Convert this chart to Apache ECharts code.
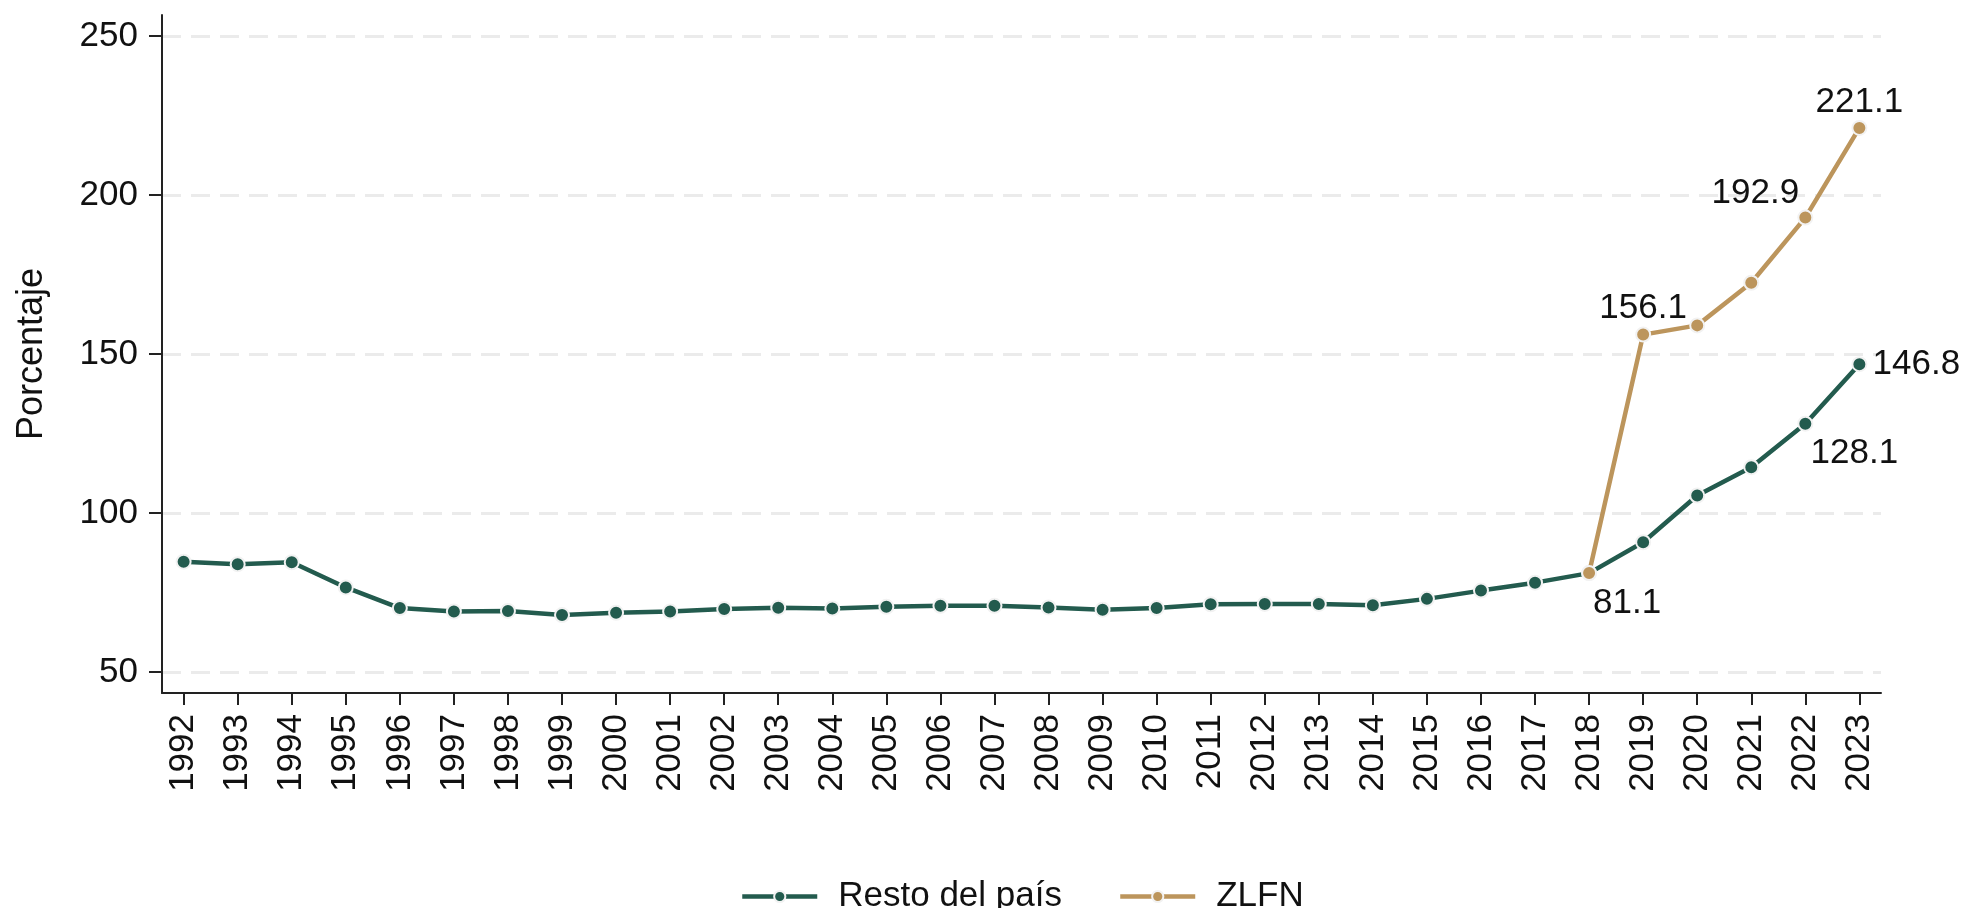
<!DOCTYPE html>
<html>
<head>
<meta charset="utf-8">
<script src="https://cdn.jsdelivr.net/npm/echarts@6/dist/echarts.min.js"></script>
<style>
html,body{margin:0;padding:0;background:#fff;}
#chart{width:1964px;height:908px;}
</style>
</head>
<body>
<div id="chart"></div>
<script>
// ---- data ----
const years = [1992,1993,1994,1995,1996,1997,1998,1999,2000,2001,2002,2003,2004,2005,2006,2007,2008,2009,2010,2011,2012,2013,2014,2015,2016,2017,2018,2019,2020,2021,2022,2023];
const restoValues = [84.7,83.9,84.5,76.6,70.1,69.0,69.2,67.9,68.6,69.0,69.8,70.2,70.0,70.5,70.8,70.8,70.3,69.6,70.1,71.3,71.4,71.4,71.0,73.0,75.6,78.1,81.1,90.8,105.5,114.4,128.1,146.8];
const zlfnYears = [2018,2019,2020,2021,2022,2023];
const zlfnValues = [81.1,156.1,159.0,172.4,192.9,221.1];
const yTicks = [50,100,150,200,250];
const seriesNames = ['Resto del país','ZLFN'];
const yTitle = 'Porcentaje';

// ---- label placement (style, not data) ----
const restoLabels = { 2022: [49, 30], 2023: [57, 0] };
const zlfnLabels = { 2018: [38, 30], 2019: [0, -26], 2022: [-50, -24], 2023: [0, -26] };

const FONT = 'Liberation Sans';
const FS = 35;
const GREEN = '#235B4E';
const GOLD = '#BC955C';

function build(xs, vs, labels) {
  return xs.map((x, i) => {
    const item = { value: [x, vs[i]] };
    if (labels[x]) {
      item.label = {
        show: true, position: 'inside', offset: labels[x],
        formatter: p => p.value[1].toFixed(1),
        color: '#111', fontSize: FS, fontFamily: FONT,
        align: 'center', verticalAlign: 'middle'
      };
    }
    return item;
  });
}

const chart = echarts.init(document.getElementById('chart'), null, { renderer: 'canvas' });
chart.setOption({
  animation: false,
  backgroundColor: '#fff',
  textStyle: { fontFamily: FONT },
  grid: { left: 162, right: 83, top: 15, bottom: 215, containLabel: false },
  xAxis: {
    type: 'value', min: 1991.6, max: 2023.4,
    axisLine: { show: true, lineStyle: { color: '#222', width: 2 } },
    axisTick: { show: true, customValues: years, length: 12, lineStyle: { color: '#222', width: 2 } },
    axisLabel: { customValues: years, rotate: 90, margin: 21, fontSize: FS, color: '#111', fontFamily: FONT, formatter: v => String(v) },
    splitLine: { show: false }
  },
  yAxis: {
    type: 'value', min: 43.4, max: 256.6,
    name: yTitle, nameLocation: 'middle', nameRotate: 90, nameGap: 112,
    nameTextStyle: { fontSize: 36, color: '#111', fontFamily: FONT },
    axisLine: { show: true, lineStyle: { color: '#222', width: 2 } },
    axisTick: { show: true, customValues: yTicks, length: 13, lineStyle: { color: '#222', width: 2 } },
    axisLabel: { customValues: yTicks, margin: 24, fontSize: FS, color: '#111', fontFamily: FONT },
    splitLine: { show: true, lineStyle: { color: '#ebebeb', width: 3, type: [19, 10] } }
  },
  legend: {
    left: 735, top: 874,
    itemWidth: 75, itemHeight: 14, itemGap: 56,
    lineStyle: { width: 4.5 },
    textStyle: { fontSize: FS, color: '#111', fontFamily: FONT, padding: [0, 0, 0, 16] },
    data: seriesNames
  },
  series: [
    {
      name: seriesNames[0], type: 'line',
      data: build(years, restoValues, restoLabels),
      symbol: 'circle', symbolSize: 14,
      lineStyle: { color: GREEN, width: 4.5 },
      itemStyle: { color: GREEN, borderColor: '#f2f2f2', borderWidth: 2 },
      z: 2
    },
    {
      name: seriesNames[1], type: 'line',
      data: build(zlfnYears, zlfnValues, zlfnLabels),
      symbol: 'circle', symbolSize: 14,
      lineStyle: { color: GOLD, width: 4.5 },
      itemStyle: { color: GOLD, borderColor: '#f2f2f2', borderWidth: 2 },
      z: 3
    }
  ]
});
</script>
</body>
</html>
